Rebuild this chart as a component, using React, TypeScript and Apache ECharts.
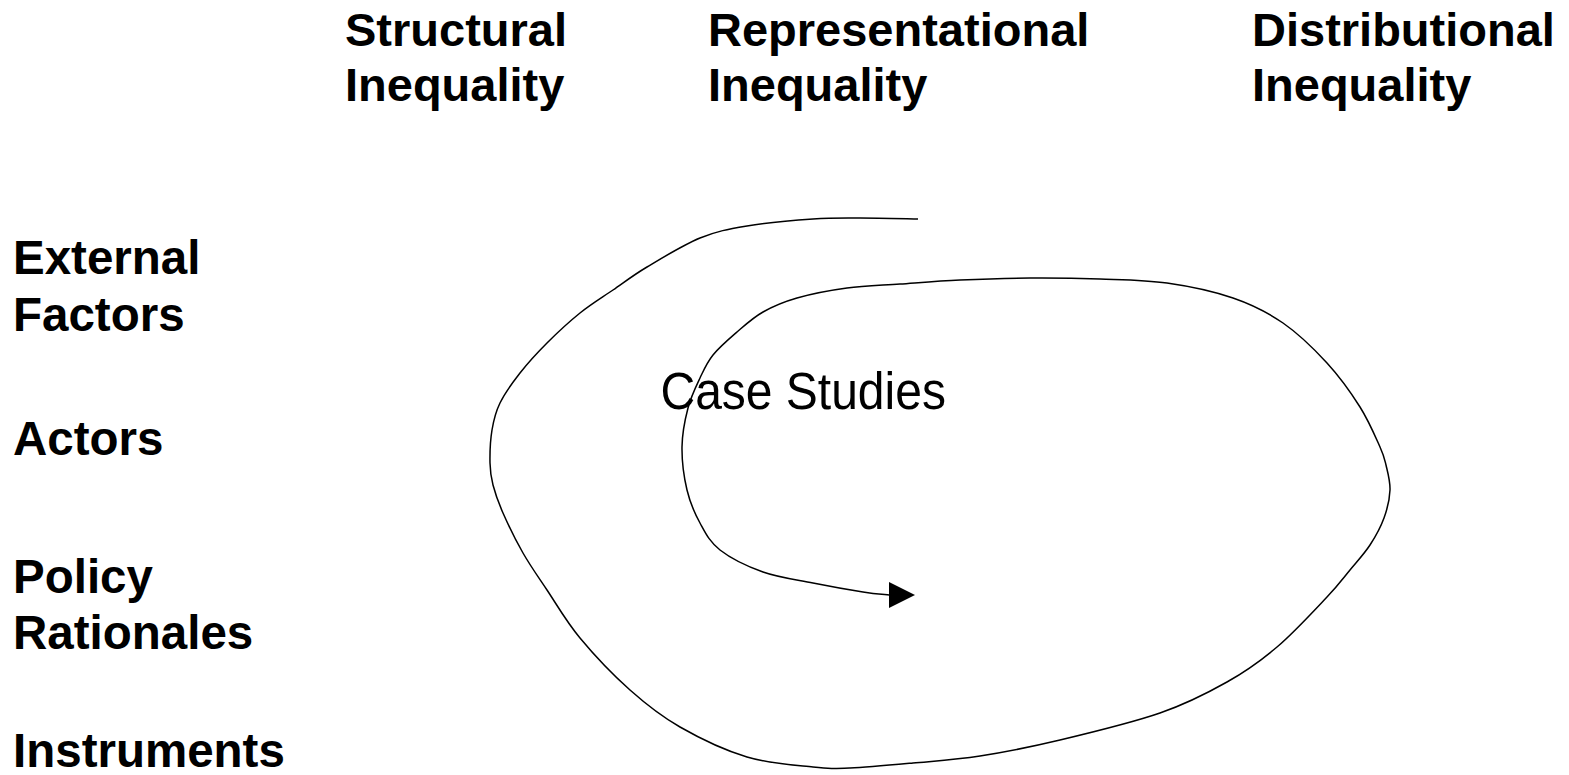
import React, { useEffect, useRef } from "react";
import * as echarts from "echarts";

// ---- Content ----
const COLUMN_HEADERS: string[][] = [
  ["Structural", "Inequality"],
  ["Representational", "Inequality"],
  ["Distributional", "Inequality"],
];
const ROW_LABELS: string[][] = [
  ["External", "Factors"],
  ["Actors"],
  ["Policy", "Rationales"],
  ["Instruments"],
];
const CENTER_LABEL = "Case Studies";

// Spiral path (x, y in picture units, y downwards)
const SPIRAL_X = [
  918, 860, 813, 747, 700, 647, 613, 580, 547, 520, 500, 492, 490, 493, 503, 523, 547, 580, 630, 680,
  747, 813, 850, 913, 980, 1060, 1160, 1227, 1277, 1327, 1350, 1370, 1384, 1390, 1386, 1380, 1360,
  1327, 1283, 1233, 1167, 1100, 1030, 960, 900, 847, 797, 763, 737, 713, 700, 688, 682, 687, 700, 720,
  763, 813, 863, 889,
];
const SPIRAL_Y = [
  219, 218, 219, 226, 238, 267, 290, 313, 343, 373, 403, 430, 463, 485, 513, 553, 590, 638, 690, 727,
  757, 767, 768, 763, 756, 740, 713, 682, 647, 597, 570, 545, 518, 490, 465, 447, 407,
  363, 323, 298, 283, 279, 278, 280, 284, 288, 298, 312, 332, 355, 378, 408, 447, 490, 523, 550,
  572, 583, 592, 595,
];
const ARROW_HEAD: number[] = [902, 595];

// ---- Layout (pixels) ----
const W = 1569;
const H = 775;
const HEADER_X = [345, 708, 1252];
const HEADER_Y = [29, 84];
const ROW_X = 13;
const ROW_Y = [
  [257, 314],
  [438],
  [576, 632],
  [750],
];
const FONT_FAMILY = '"Liberation Sans", Arial, Helvetica, sans-serif';

export default function App() {
  const ref = useRef<HTMLDivElement | null>(null);

  useEffect(() => {
    document.body.style.margin = "0";
    if (!ref.current) return;
    const chart = echarts.init(ref.current, undefined, { renderer: "svg" });

    const texts: any[] = [];
    COLUMN_HEADERS.forEach((lines, ci) => {
      lines.forEach((t, li) => {
        texts.push({
          type: "text",
          x: HEADER_X[ci],
          y: HEADER_Y[li],
          silent: true,
          style: {
            text: t,
            font: `bold 47px ${FONT_FAMILY}`,
            fill: "#000",
            textAlign: "left",
            align: "left",
            textVerticalAlign: "middle",
            verticalAlign: "middle",
          },
        });
      });
    });
    ROW_LABELS.forEach((lines, ri) => {
      lines.forEach((t, li) => {
        texts.push({
          type: "text",
          x: ROW_X,
          y: ROW_Y[ri][li],
          silent: true,
          style: {
            text: t,
            font: `bold 47.5px ${FONT_FAMILY}`,
            fill: "#000",
            textAlign: "left",
            align: "left",
            textVerticalAlign: "middle",
            verticalAlign: "middle",
          },
        });
      });
    });
    texts.push({
      type: "text",
      x: 660.5,
      y: 391.5,
      scaleY: 1.07,
      silent: true,
      z: 10,
      style: {
        text: CENTER_LABEL,
        font: `48px ${FONT_FAMILY}`,
        fill: "#000",
        textAlign: "left",
        align: "left",
        textVerticalAlign: "middle",
        verticalAlign: "middle",
      },
    });

    const spiral = SPIRAL_X.map((x, i) => [x, SPIRAL_Y[i]]);

    // Smooth curve through all spiral points (Catmull-Rom -> cubic Bezier),
    // each point placed through the cartesian axes with api.coord.
    const renderSpiral = (params: any, api: any) => {
      if (params.dataIndex !== 0) return null;
      const pts = spiral.map((p) => api.coord(p));
      const n = pts.length;
      const f = (v: number) => v.toFixed(2);
      let d = `M${f(pts[0][0])},${f(pts[0][1])}`;
      for (let i = 0; i < n - 1; i++) {
        const p0 = pts[Math.max(0, i - 1)];
        const p1 = pts[i];
        const p2 = pts[i + 1];
        const p3 = pts[Math.min(n - 1, i + 2)];
        const c1x = p1[0] + (p2[0] - p0[0]) / 6;
        const c1y = p1[1] + (p2[1] - p0[1]) / 6;
        const c2x = p2[0] - (p3[0] - p1[0]) / 6;
        const c2y = p2[1] - (p3[1] - p1[1]) / 6;
        d += ` C${f(c1x)},${f(c1y)} ${f(c2x)},${f(c2y)} ${f(p2[0])},${f(p2[1])}`;
      }
      return {
        type: "path",
        shape: { pathData: d },
        style: { stroke: "#000", fill: "none", lineWidth: 1.5 },
        silent: true,
      };
    };

    chart.setOption({
      animation: false,
      backgroundColor: "#ffffff",
      grid: { left: 0, right: 0, top: 0, bottom: 0, containLabel: false },
      xAxis: { type: "value", min: 0, max: W, show: false },
      yAxis: { type: "value", min: 0, max: H, inverse: true, show: false },
      tooltip: { show: false },
      series: [
        {
          type: "custom",
          coordinateSystem: "cartesian2d",
          data: spiral,
          renderItem: renderSpiral,
          silent: true,
          clip: false,
        },
        {
          type: "scatter",
          data: [ARROW_HEAD],
          symbol: "triangle",
          symbolRotate: -90,
          symbolSize: [26, 26],
          silent: true,
          clip: false,
          itemStyle: { color: "#000", opacity: 1 },
        },
      ],
      graphic: texts,
    });

    return () => chart.dispose();
  }, []);

  return (
    <div
      ref={ref}
      style={{ position: "relative", width: W, height: H, background: "#fff" }}
    />
  );
}
